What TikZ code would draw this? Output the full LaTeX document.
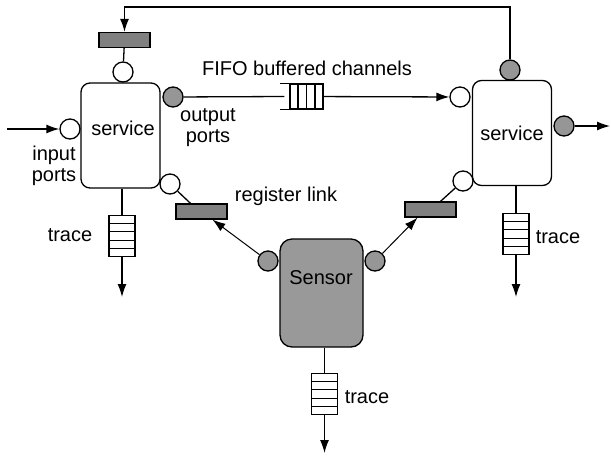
\documentclass[tikz,border=0pt]{standalone}
\usepackage{fontspec}
\setmainfont{Liberation Sans}
\usepackage{xcolor}
\usepackage{tikz}
\usetikzlibrary{arrows.meta, calc}

\definecolor{portgray}{RGB}{150,150,150}
\definecolor{reggray}{RGB}{128,128,128}
\definecolor{sensgray}{RGB}{153,153,153}

\begin{document}
\begin{tikzpicture}[x = 1pt, y = -1pt, line width = 1.3pt, font = \fontsize{20}{21}\selectfont]
            \tikzstyle{svc} = [draw, rounded corners = 9pt, minimum width = 79pt, minimum height = 105pt, inner sep = 0];
            \tikzstyle{sensorbox} = [draw, fill = sensgray, rounded corners = 12pt, minimum width = 83pt, minimum height = 108pt, inner sep = 0];
            \tikzstyle{inport} = [draw, fill = white, circle, minimum size = 20pt, inner sep = 0];
            \tikzstyle{outport} = [draw, fill = portgray, circle, minimum size = 20pt, inner sep = 0];
            \tikzstyle{reg} = [draw, fill = reggray, minimum width = 51pt, minimum height = 15pt, inner sep = 0];
            \tikzstyle{queue} = [draw, minimum width = 26pt, minimum height = 41pt, inner sep = 0];
            \tikzstyle{lbl} = [inner sep = 0, align = center];
            \tikzstyle{arr} = [-{Latex[length = 13pt, width = 9pt]}];
            \useasboundingbox (0,0) rectangle (611,459);

            % services and sensor
            \node [svc] (svcL) at (120.5,135.5) {};
            \node [lbl] (svcLname) at (123,128) {service};
            \node [svc] (svcR) at (512,133) {service};
            \node [sensorbox] (sens) at (321.5,293) {};
            \node [lbl] (sensname) at (321,278) {Sensor};

            % ports
            \node [inport] (inL) at (70,129) {};
            \node [inport] (topL) at (123,72) {};
            \node [outport] (outL) at (173,97) {};
            \node [inport] (regLp) at (170,184) {};
            \node [inport] (inR) at (460,97) {};
            \node [outport] (topR) at (510,70) {};
            \node [outport] (outR) at (564,126) {};
            \node [inport] (regRp) at (463,181) {};
            \node [outport] (senL) at (268,261) {};
            \node [outport] (senR) at (375,261) {};

            % registers
            \node [reg] (regTop) at (124.5,40) {};
            \node [reg] (regL) at (201.5,211.5) {};
            \node [reg] (regR) at (430.5,209.5) {};

            % fifo channel
            \node [draw, minimum width = 33pt, minimum height = 25pt, inner sep = 0] (fifo) at (306.5,96.5) {};
            \draw (fifo.north west) -- ++(-9,0);
            \draw (fifo.south west) -- ++(-9,0);
            \foreach \k in {1, 2, 3}
                \draw ($(fifo.north west)!\k/4!(fifo.north east)$) -- ($(fifo.south west)!\k/4!(fifo.south east)$);

            % trace queues
            \node [queue] (trL) at (122,236) {};
            \node [queue] (trR) at (516,234) {};
            \node [queue] (trS) at (324.5,394) {};
            \foreach \q in {trL, trR, trS}
                \foreach \k in {1, ..., 4}
                    \draw ($(\q.north west)!\k/5!(\q.south west)$) -- ($(\q.north east)!\k/5!(\q.south east)$);

            % free ends
            \coordinate (inLsrc) at (7,129);
            \coordinate (outRend) at (610,126);
            \coordinate (loop) at (317,7);
            \coordinate (trLend) at (122,297);
            \coordinate (trRend) at (516,297);
            \coordinate (trSend) at (324.5,453);

            % connectors
            \draw [arr] (inLsrc) -- (inL);
            \draw [arr] (outR) -- (outRend);
            \draw [arr] (topR) |- (loop) -| (regTop);
            \draw (regTop) -- (topL);
            \draw (outL) -- ([xshift = -5pt]fifo.west);
            \draw [arr] (fifo) -- (inR);
            \draw (regLp) -- ([xshift = -11pt]regL.north);
            \draw (regRp) -- ([xshift = 10pt]regR.north);
            \draw [arr, line width = 1pt] (senL) -- ([xshift = 11pt]regL.south);
            \draw [arr, line width = 1pt] (senR) -- ([xshift = -13pt]regR.south);
            \draw (svcL.south -| trL) -- (trL);
            \draw [arr] (trL) -- (trLend);
            \draw (svcR.south -| trR) -- (trR);
            \draw [arr] (trR) -- (trRend);
            \draw (sens.south -| trS) -- (trS);
            \draw [arr] (trS) -- (trSend);

            % labels
            \node [lbl] (fifolbl) at (307,68) {FIFO buffered channels};
            \node [lbl] (outlbl) at (208,127.5) {output\\ports};
            \node [lbl] (inlbl) at (54,166) {input\\ports};
            \node [lbl] (reglbl) at (286,196) {register link};
            \node [lbl] (trLlbl) at (70,235) {trace};
            \node [lbl] (trRlbl) at (558,237) {trace};
            \node [lbl] (trSlbl) at (367,397) {trace};

        \end{tikzpicture}
\end{document}
